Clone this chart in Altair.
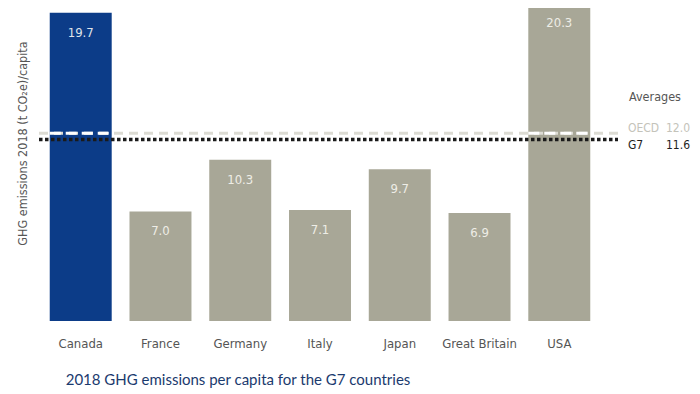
import altair as alt
import pandas as pd

countries = ["Canada", "France", "Germany", "Italy", "Japan", "Great Britain", "USA"]
values = [19.7, 7.0, 10.3, 7.1, 9.7, 6.9, 20.3]
bar_colors = ["#0c3c88", "#a8a797", "#a8a797", "#a8a797", "#a8a797", "#a8a797", "#a8a797"]
label_colors = ["#dfe3ea", "#eeede6", "#eeede6", "#eeede6", "#eeede6", "#eeede6", "#eeede6"]

avg_names = ["OECD", "G7"]
avg_values = [12.0, 11.6]
avg_colors = ["#c4c3ba", "#1e1e1e"]

title_text = "2018 GHG emissions per capita for the G7 countries"
y_title = "GHG emissions 2018 (t CO\u2082e)/capita"
legend_heading = "Averages"

COND = "DejaVu Sans Condensed, sans-serif"

bars_df = pd.DataFrame({"country": countries, "value": values,
                        "color": bar_colors, "lcolor": label_colors})
avg_df = pd.DataFrame({"name": avg_names, "value": avg_values, "color": avg_colors})

x_enc = alt.X("country:N", sort=countries,
              scale=alt.Scale(paddingInner=0.223, paddingOuter=0.122),
              axis=alt.Axis(title=None, labelAngle=0, ticks=False, domain=False,
                            labelPadding=16, labelFontSize=13, labelColor="#555555",
                            labelFont=COND))
y_scale = alt.Scale(domain=[0, 20], nice=False)

base = alt.Chart(bars_df)

bars = base.mark_bar(clip=False).encode(
    x=x_enc,
    y=alt.Y("value:Q", scale=y_scale,
            axis=alt.Axis(title=y_title, labels=False, ticks=False, domain=False,
                          grid=False, titleFont=COND, titleFontSize=12.5,
                          titleFontWeight="normal", titleColor="#555555",
                          titleX=-18, titleY=135, titleAlign="center",
                          titleBaseline="middle", titleAngle=-90)),
    color=alt.Color("color:N", scale=None),
)

bar_labels = base.mark_text(dy=20, baseline="middle", font=COND, fontSize=13).encode(
    x=alt.X("country:N", sort=countries),
    y=alt.Y("value:Q", scale=y_scale),
    text=alt.Text("value:Q", format=".1f"),
    color=alt.Color("lcolor:N", scale=None),
)

avg = alt.Chart(avg_df)

oecd_line = avg.transform_filter(alt.datum.name == "OECD").mark_rule(
    strokeWidth=3, strokeDash=[9, 6], color="#dcdbd3"
).encode(y=alt.Y("value:Q", scale=y_scale), x=alt.value(-1), x2=alt.value(578))

# white dashes where the OECD line crosses bars taller than it
oecd_over = alt.Chart(bars_df).transform_filter(alt.datum.value > avg_values[0]).transform_calculate(
    oecd=str(avg_values[0])
).mark_rule(strokeWidth=3, strokeDash=[11, 5], color="#ffffff").encode(
    x=alt.X("country:N", sort=countries, bandPosition=0),
    x2=alt.X2("country", bandPosition=1),
    y=alt.Y("oecd:Q", scale=y_scale),
)

g7_line = avg.transform_filter(alt.datum.name == "G7").mark_rule(
    strokeWidth=3.5, strokeDash=[3.5, 2.5], color="#1a1a1a"
).encode(y=alt.Y("value:Q", scale=y_scale), x=alt.value(-1), x2=alt.value(578))

heading = alt.Chart(pd.DataFrame({"t": [legend_heading]})).mark_text(
    align="left", baseline="middle", font=COND, fontSize=12.5, color="#555555"
).encode(text="t:N", x=alt.value(589), y=alt.value(89))

def avg_texts(name, dy):
    sub = avg.transform_filter(alt.datum.name == name)
    n = sub.mark_text(align="left", baseline="middle", font=COND, fontSize=12, dy=dy).encode(
        text="name:N", x=alt.value(588), y=alt.Y("value:Q", scale=y_scale),
        color=alt.Color("color:N", scale=None))
    v = sub.mark_text(align="right", baseline="middle", font=COND, fontSize=12, dy=dy).encode(
        text=alt.Text("value:Q", format=".1f"), x=alt.value(650),
        y=alt.Y("value:Q", scale=y_scale), color=alt.Color("color:N", scale=None))
    return n + v

oecd_txt = avg_texts("OECD", -5)
g7_txt = avg_texts("G7", 5.5)

chart = alt.layer(
    bars, bar_labels, oecd_line, oecd_over, g7_line, heading, oecd_txt, g7_txt
).properties(
    width=560, height=313,
    title=alt.TitleParams(title_text, orient="bottom", anchor="middle", dx=-82,
                          font="Lato", fontSize=15, fontWeight="normal",
                          color="#1b3a6e", offset=23),
    autosize="none",
    padding={"left": 32, "top": 0, "right": 92, "bottom": 73},
).configure_view(stroke=None)

chart.save("out.html", embed_options={"renderer": "svg", "actions": False})
